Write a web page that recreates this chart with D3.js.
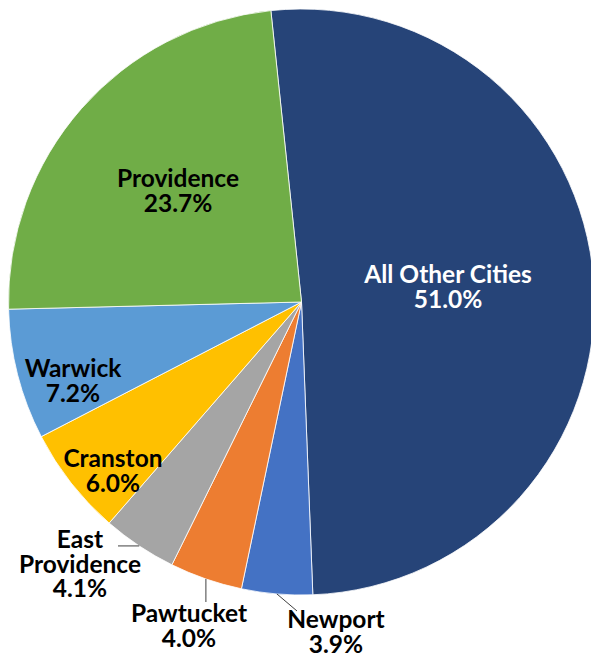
<!DOCTYPE html>
<html>
<head>
<meta charset="utf-8">
<script src="https://cdn.jsdelivr.net/npm/d3@7"></script>
<style>
  html, body { margin: 0; padding: 0; background: #fff; }
  svg { display: block; }
  .lbl { font-family: Lato, "Open Sans", sans-serif; font-weight: 700; font-size: 24.5px; }
</style>
</head>
<body>
<svg id="chart" width="591" height="654"></svg>
<script>
// City shares of the state total (percent), clockwise from the top
const cities = ["All Other Cities", "Newport", "Pawtucket", "East Providence", "Cranston", "Warwick", "Providence"];
const shares = [51.0, 3.9, 4.0, 4.1, 6.0, 7.2, 23.7];
const sliceColors = ["#264478", "#4472C4", "#ED7D31", "#A5A5A5", "#FFC000", "#5B9BD5", "#70AD47"];

// Label placement: centre x, first baseline y, text colour, optional leader end point
const labelLayout = {
  "All Other Cities": { x: 448, y: 283, fill: "#fff", lines: ["All Other Cities"] },
  "Providence":       { x: 178, y: 187, fill: "#000", lines: ["Providence"] },
  "Warwick":          { x: 73,  y: 377, fill: "#000", lines: ["Warwick"] },
  "Cranston":         { x: 113, y: 467, fill: "#000", lines: ["Cranston"] },
  "East Providence":  { x: 80,  y: 548, fill: "#000", lines: ["East", "Providence"], leader: { x: 118, horizontal: true } },
  "Pawtucket":        { x: 189, y: 622, fill: "#000", lines: ["Pawtucket"], leader: { y: 602, vertical: true } },
  "Newport":          { x: 336, y: 628, fill: "#000", lines: ["Newport"], leader: { x: 297, y: 611 } }
};

const width = 591, height = 654;
const cx = 301.5, cy = 302, radius = 293;
const lineHeight = 24.5;
const startDeg = -6;

const data = cities.map((c, i) => ({ city: c, share: shares[i], color: sliceColors[i] }));

const svg = d3.select("#chart");
const g = svg.append("g").attr("transform", `translate(${cx},${cy})`);

const start = startDeg * Math.PI / 180;
const pie = d3.pie().sort(null).value(d => d.share)
  .startAngle(start).endAngle(start + 2 * Math.PI);
const arc = d3.arc().innerRadius(0).outerRadius(radius);
const arcs = pie(data);

g.selectAll("path.slice")
  .data(arcs)
  .join("path")
  .attr("class", "slice")
  .attr("d", arc)
  .attr("fill", d => d.data.color)
  .attr("stroke", "#fff")
  .attr("stroke-width", 0.8);

const pct = d3.format(".1f");

// Leader lines from the slice rim to the outside labels
arcs.forEach(a => {
  const L = labelLayout[a.data.city];
  if (!L.leader) return;
  const mid = (a.startAngle + a.endAngle) / 2;
  const px = cx + radius * Math.sin(mid);
  const py = cy - radius * Math.cos(mid);
  let ex, ey;
  if (L.leader.horizontal) { ex = L.leader.x; ey = py; }
  else if (L.leader.vertical) { ex = px; ey = L.leader.y; }
  else { ex = L.leader.x; ey = L.leader.y; }
  svg.append("line")
    .attr("x1", px).attr("y1", py)
    .attr("x2", ex).attr("y2", ey)
    .attr("stroke", "#404040")
    .attr("stroke-width", 1);
});

// Data labels: city name line(s) plus percentage
arcs.forEach(a => {
  const L = labelLayout[a.data.city];
  const lines = L.lines.concat([pct(a.data.share) + "%"]);
  const t = svg.append("text")
    .attr("class", "lbl")
    .attr("text-anchor", "middle")
    .attr("fill", L.fill);
  lines.forEach((s, i) => {
    t.append("tspan")
      .attr("x", L.x)
      .attr("y", L.y + i * lineHeight)
      .text(s);
  });
});
</script>
</body>
</html>
